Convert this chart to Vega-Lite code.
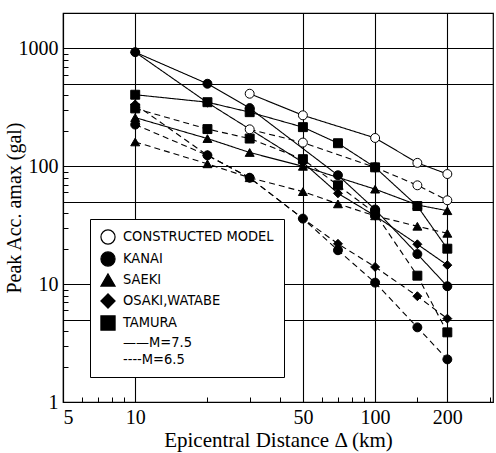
{
  "$schema": "https://vega.github.io/schema/vega-lite/v6.json",
  "width": 430,
  "height": 389,
  "autosize": {"type": "none"},
  "padding": {"left": 63, "top": 13, "right": 3, "bottom": 51},
  "background": "white",
  "config": {
    "view": {"stroke": "black", "strokeWidth": 1.2},
    "axis": {
      "domainColor": "black",
      "domainWidth": 1.2,
      "tickColor": "black",
      "tickWidth": 1,
      "tickSize": -5,
      "gridColor": "black",
      "gridWidth": 1.1,
      "labelFont": "Liberation Serif",
      "labelFontSize": 20,
      "labelColor": "black",
      "labelOverlap": false,
      "titleFont": "Liberation Serif",
      "titleFontWeight": "normal",
      "titleColor": "black"
    },
    "legend": {
      "orient": "none",
      "legendX": 27,
      "legendY": 206,
      "fillColor": "white",
      "strokeColor": "black",
      "padding": 10,
      "rowPadding": 2,
      "labelOffset": 7,
      "symbolSize": 200,
      "symbolStrokeWidth": 1.2,
      "labelFont": "DejaVu Sans Condensed, Liberation Sans",
      "labelFontSize": 14.5,
      "labelColor": "black",
      "labelLimit": 400
    }
  },
  "data": {
    "values": [
      {"src": "CONSTRUCTED MODEL", "M": "7.5", "series": "C75", "d": 30, "a": 413},
      {"src": "CONSTRUCTED MODEL", "M": "7.5", "series": "C75", "d": 50, "a": 271},
      {"src": "CONSTRUCTED MODEL", "M": "7.5", "series": "C75", "d": 100, "a": 174},
      {"src": "CONSTRUCTED MODEL", "M": "7.5", "series": "C75", "d": 150, "a": 107},
      {"src": "CONSTRUCTED MODEL", "M": "7.5", "series": "C75", "d": 200, "a": 86},
      {"src": "CONSTRUCTED MODEL", "M": "6.5", "series": "C65", "d": 30, "a": 206},
      {"src": "CONSTRUCTED MODEL", "M": "6.5", "series": "C65", "d": 50, "a": 159},
      {"src": "CONSTRUCTED MODEL", "M": "6.5", "series": "C65", "d": 100, "a": 98},
      {"src": "CONSTRUCTED MODEL", "M": "6.5", "series": "C65", "d": 150, "a": 69},
      {"src": "CONSTRUCTED MODEL", "M": "6.5", "series": "C65", "d": 200, "a": 51.5},
      {"src": "KANAI", "M": "7.5", "series": "K75", "d": 10, "a": 930},
      {"src": "KANAI", "M": "7.5", "series": "K75", "d": 20, "a": 502},
      {"src": "KANAI", "M": "7.5", "series": "K75", "d": 30, "a": 312},
      {"src": "KANAI", "M": "7.5", "series": "K75", "d": 70, "a": 84},
      {"src": "KANAI", "M": "7.5", "series": "K75", "d": 100, "a": 43},
      {"src": "KANAI", "M": "7.5", "series": "K75", "d": 150, "a": 18},
      {"src": "KANAI", "M": "7.5", "series": "K75", "d": 200, "a": 9.6},
      {"src": "KANAI", "M": "6.5", "series": "K65", "d": 10, "a": 226},
      {"src": "KANAI", "M": "6.5", "series": "K65", "d": 20, "a": 124},
      {"src": "KANAI", "M": "6.5", "series": "K65", "d": 30, "a": 80},
      {"src": "KANAI", "M": "6.5", "series": "K65", "d": 50, "a": 36},
      {"src": "KANAI", "M": "6.5", "series": "K65", "d": 70, "a": 19.4},
      {"src": "KANAI", "M": "6.5", "series": "K65", "d": 100, "a": 10.3},
      {"src": "KANAI", "M": "6.5", "series": "K65", "d": 150, "a": 4.3},
      {"src": "KANAI", "M": "6.5", "series": "K65", "d": 200, "a": 2.3},
      {"src": "SAEKI", "M": "7.5", "series": "S75", "d": 10, "a": 259},
      {"src": "SAEKI", "M": "7.5", "series": "S75", "d": 20, "a": 172},
      {"src": "SAEKI", "M": "7.5", "series": "S75", "d": 30, "a": 131},
      {"src": "SAEKI", "M": "7.5", "series": "S75", "d": 50, "a": 100},
      {"src": "SAEKI", "M": "7.5", "series": "S75", "d": 100, "a": 64},
      {"src": "SAEKI", "M": "7.5", "series": "S75", "d": 150, "a": 47},
      {"src": "SAEKI", "M": "7.5", "series": "S75", "d": 200, "a": 42},
      {"src": "SAEKI", "M": "6.5", "series": "S65", "d": 10, "a": 161},
      {"src": "SAEKI", "M": "6.5", "series": "S65", "d": 20, "a": 105},
      {"src": "SAEKI", "M": "6.5", "series": "S65", "d": 30, "a": 80},
      {"src": "SAEKI", "M": "6.5", "series": "S65", "d": 50, "a": 61},
      {"src": "SAEKI", "M": "6.5", "series": "S65", "d": 70, "a": 48},
      {"src": "SAEKI", "M": "6.5", "series": "S65", "d": 100, "a": 38},
      {"src": "SAEKI", "M": "6.5", "series": "S65", "d": 150, "a": 31},
      {"src": "SAEKI", "M": "6.5", "series": "S65", "d": 200, "a": 27},
      {"src": "OSAKI,WATABE", "M": "7.5", "series": "O75", "d": 10, "a": 930},
      {"src": "OSAKI,WATABE", "M": "7.5", "series": "O75", "d": 20, "a": 347},
      {"src": "OSAKI,WATABE", "M": "7.5", "series": "O75", "d": 50, "a": 108},
      {"src": "OSAKI,WATABE", "M": "7.5", "series": "O75", "d": 70, "a": 59},
      {"src": "OSAKI,WATABE", "M": "7.5", "series": "O75", "d": 100, "a": 38},
      {"src": "OSAKI,WATABE", "M": "7.5", "series": "O75", "d": 150, "a": 21.8},
      {"src": "OSAKI,WATABE", "M": "7.5", "series": "O75", "d": 200, "a": 14.5},
      {"src": "OSAKI,WATABE", "M": "6.5", "series": "O65", "d": 10, "a": 335},
      {"src": "OSAKI,WATABE", "M": "6.5", "series": "O65", "d": 20, "a": 124},
      {"src": "OSAKI,WATABE", "M": "6.5", "series": "O65", "d": 30, "a": 80},
      {"src": "OSAKI,WATABE", "M": "6.5", "series": "O65", "d": 50, "a": 36},
      {"src": "OSAKI,WATABE", "M": "6.5", "series": "O65", "d": 70, "a": 22},
      {"src": "OSAKI,WATABE", "M": "6.5", "series": "O65", "d": 100, "a": 14},
      {"src": "OSAKI,WATABE", "M": "6.5", "series": "O65", "d": 150, "a": 7.9},
      {"src": "OSAKI,WATABE", "M": "6.5", "series": "O65", "d": 200, "a": 5.1},
      {"src": "TAMURA", "M": "7.5", "series": "T75", "d": 10, "a": 405},
      {"src": "TAMURA", "M": "7.5", "series": "T75", "d": 20, "a": 350},
      {"src": "TAMURA", "M": "7.5", "series": "T75", "d": 30, "a": 288},
      {"src": "TAMURA", "M": "7.5", "series": "T75", "d": 50, "a": 215},
      {"src": "TAMURA", "M": "7.5", "series": "T75", "d": 70, "a": 157},
      {"src": "TAMURA", "M": "7.5", "series": "T75", "d": 100, "a": 98},
      {"src": "TAMURA", "M": "7.5", "series": "T75", "d": 150, "a": 46},
      {"src": "TAMURA", "M": "7.5", "series": "T75", "d": 200, "a": 20},
      {"src": "TAMURA", "M": "6.5", "series": "T65", "d": 10, "a": 310},
      {"src": "TAMURA", "M": "6.5", "series": "T65", "d": 20, "a": 207},
      {"src": "TAMURA", "M": "6.5", "series": "T65", "d": 30, "a": 172},
      {"src": "TAMURA", "M": "6.5", "series": "T65", "d": 50, "a": 115},
      {"src": "TAMURA", "M": "6.5", "series": "T65", "d": 70, "a": 69},
      {"src": "TAMURA", "M": "6.5", "series": "T65", "d": 100, "a": 40},
      {"src": "TAMURA", "M": "6.5", "series": "T65", "d": 150, "a": 11.8},
      {"src": "TAMURA", "M": "6.5", "series": "T65", "d": 200, "a": 3.9}
    ]
  },
  "encoding": {
    "x": {
      "field": "d",
      "type": "quantitative",
      "scale": {"type": "log", "domain": [5, 310], "nice": false},
      "axis": {
        "title": "Epicentral Distance Δ (km)",
        "titleFontSize": 21,
        "titlePadding": 2,
        "labelPadding": 10,
        "format": "d",
        "values": [5, 6, 7, 8, 9, 10, 20, 30, 40, 50, 60, 70, 80, 90, 100, 150, 200, 300],
        "labelExpr": "indexof([5, 10, 50, 100, 200], datum.value) >= 0 ? datum.label : ''",
        "gridOpacity": {"condition": {"test": "indexof([10, 50, 100, 200], datum.value) >= 0", "value": 1}, "value": 0}
      }
    },
    "y": {
      "field": "a",
      "type": "quantitative",
      "scale": {"type": "log", "domain": [1, 2000], "nice": false},
      "axis": {
        "title": "Peak Acc. amax (gal)",
        "titleFontSize": 20,
        "titlePadding": -6,
        "labelPadding": 10,
        "format": "d",
        "values": [1, 2, 3, 4, 5, 6, 7, 8, 9, 10, 20, 30, 40, 50, 60, 70, 80, 90, 100, 200, 300, 400, 500, 600, 700, 800, 900, 1000],
        "labelExpr": "indexof([1, 10, 100, 1000], datum.value) >= 0 ? datum.label : ''",
        "gridOpacity": {"condition": {"test": "indexof([5, 10, 50, 100, 500, 1000], datum.value) >= 0", "value": 1}, "value": 0}
      }
    }
  },
  "layer": [
    {
      "mark": {"type": "line", "color": "black", "strokeWidth": 1.1},
      "encoding": {
        "detail": {"field": "series", "type": "nominal"},
        "strokeDash": {
          "field": "M",
          "type": "nominal",
          "scale": {"domain": ["7.5", "6.5"], "range": [[1, 0], [6, 4]]},
          "legend": null
        }
      }
    },
    {
      "mark": {"type": "point", "filled": true, "size": 80, "strokeWidth": 1, "opacity": 1},
      "encoding": {
        "shape": {
          "field": "src",
          "type": "nominal",
          "scale": {
            "domain": ["CONSTRUCTED MODEL", "KANAI", "SAEKI", "OSAKI,WATABE", "TAMURA", "——M=7.5", "----M=6.5"],
            "range": ["circle", "circle", "triangle-up", "diamond", "square", "M0,0", "M0,0"]
          },
          "legend": {"title": null}
        },
        "fill": {
          "field": "src",
          "type": "nominal",
          "scale": {
            "domain": ["CONSTRUCTED MODEL", "KANAI", "SAEKI", "OSAKI,WATABE", "TAMURA", "——M=7.5", "----M=6.5"],
            "range": ["white", "black", "black", "black", "black", "transparent", "transparent"]
          },
          "legend": {"title": null}
        },
        "stroke": {
          "field": "src",
          "type": "nominal",
          "scale": {
            "domain": ["CONSTRUCTED MODEL", "KANAI", "SAEKI", "OSAKI,WATABE", "TAMURA", "——M=7.5", "----M=6.5"],
            "range": ["black", "black", "black", "black", "black", "transparent", "transparent"]
          },
          "legend": {"title": null}
        }
      }
    }
  ]
}
